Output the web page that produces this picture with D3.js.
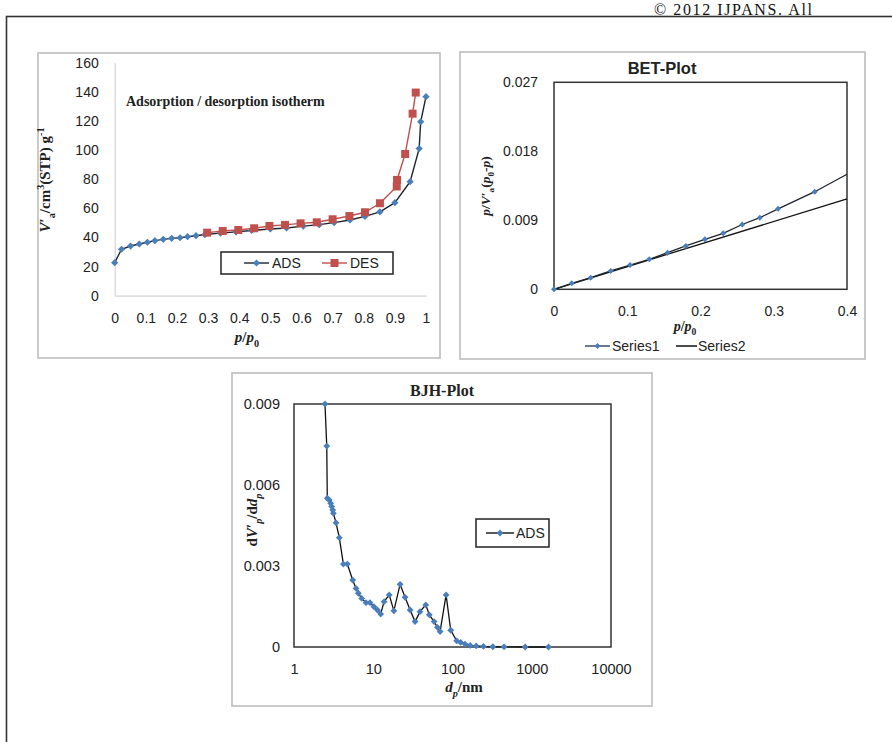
<!DOCTYPE html>
<html><head><meta charset="utf-8">
<script src="https://cdn.jsdelivr.net/npm/d3@7"></script>
<style>body{margin:0;background:#fff}svg{display:block}</style>
</head><body>
<script>
// ---------- Data: adsorption / desorption isotherm ----------
const adsP = [0, 0.022, 0.051, 0.079, 0.105, 0.129, 0.156, 0.183, 0.21, 0.234, 0.261, 0.29, 0.34, 0.39, 0.44, 0.5, 0.552, 0.606, 0.657, 0.705, 0.756, 0.804, 0.852, 0.9, 0.949, 0.978, 0.983, 1.0];
const adsV = [22.7, 31.9, 34.1, 35.5, 36.7, 37.8, 38.7, 39.4, 39.8, 40.5, 41.2, 42, 43, 43.8, 44.8, 45.8, 46.5, 47.8, 48.8, 50.2, 52, 54.5, 57.6, 63.9, 78.3, 101, 119.5, 136.7];
const desP = [0.967, 0.957, 0.933, 0.907, 0.906, 0.852, 0.804, 0.754, 0.7, 0.649, 0.597, 0.547, 0.497, 0.448, 0.397, 0.347, 0.297];
const desV = [139.5, 125, 97.3, 79.5, 75, 63.5, 57.3, 54.7, 52.5, 50.4, 49.7, 48.6, 47.9, 46.3, 45.1, 44.4, 43.3];
const isoXTicks = [0, 0.1, 0.2, 0.3, 0.4, 0.5, 0.6, 0.7, 0.8, 0.9, 1];
const isoYTicks = [0, 20, 40, 60, 80, 100, 120, 140, 160];
const isoSeries = ["ADS", "DES"];

// ---------- Data: BET plot ----------
const betP = [0, 0.0242, 0.0501, 0.0774, 0.1038, 0.130, 0.155, 0.18, 0.206, 0.231, 0.257, 0.281, 0.306, 0.356];
const betY = [0, 0.00078, 0.00151, 0.00239, 0.00317, 0.00391, 0.00478, 0.00565, 0.00652, 0.0073, 0.00845, 0.00934, 0.0105, 0.01273];
const betS1Tail = [0.4, 0.0150];          // end of Series1 line at the axis edge
const betS2P = [0, 0.4];
const betS2Y = [0, 0.0118];
const betXTicks = [0, 0.1, 0.2, 0.3, 0.4];
const betYTicks = [0, 0.009, 0.018, 0.027];
const betSeries = ["Series1", "Series2"];

// ---------- Data: BJH plot ----------
const bjhD = [2.46, 2.59, 2.63, 2.79, 2.9, 2.99, 3.08, 3.14, 3.39, 3.73, 4.2, 4.71, 5.5, 6.07, 6.49, 7.15, 8.1, 9.1, 10.2, 11.3, 12.4, 13.7, 15.9, 18.2, 21.8, 25.2, 29.2, 33.7, 38.9, 46, 51, 58.6, 64.6, 69.7, 83, 95, 113, 127, 144, 167, 199, 246, 323, 447, 826, 1625];
const bjhV = [0.009, 0.00744, 0.00551, 0.00544, 0.00532, 0.0052, 0.00507, 0.00495, 0.0046, 0.00405, 0.00307, 0.00307, 0.00248, 0.00217, 0.00199, 0.0018, 0.00164, 0.00164, 0.00149, 0.00137, 0.00122, 0.00168, 0.00193, 0.00134, 0.00232, 0.00184, 0.00137, 0.00094, 0.00131, 0.00156, 0.00119, 0.00094, 0.00073, 0.00057, 0.00193, 0.00062, 0.00023, 0.00017, 0.00011, 0.00006, 0.00004, 0.00002, 0.00001, 0.000005, 0, 0];
const bjhXTicks = [1, 10, 100, 1000, 10000];
const bjhYTicks = [0, 0.003, 0.006, 0.009];
const bjhSeries = ["ADS"];

// ---------- Drawing ----------
const W = 892, H = 742;
const SANS = "'Liberation Sans', Arial, sans-serif";
const SERIF = "'Liberation Serif', 'Times New Roman', serif";
const BLUE = "#4a7ebb", RED = "#c0504d", INK = "#222";

const svg = d3.select("body").append("svg").attr("width", W).attr("height", H);

// outer frame + copyright
svg.append("rect").attr("x", 6.5).attr("y", 16.5).attr("width", 900).attr("height", 740)
  .attr("fill", "none").attr("stroke", "#333").attr("stroke-width", 1.6);
svg.append("text").attr("x", 654).attr("y", 15.3).attr("font-family", SERIF).attr("font-size", 16)
  .attr("letter-spacing", 1.6).attr("fill", "#111").text("© 2012 IJPANS. All");

const diamond = r => `M0,${-r}L${r},0L0,${r}L${-r},0Z`;
const square = r => `M${-r},${-r}H${r}V${r}H${-r}Z`;

function rich(g, x, y, parts, o) {
  const t = g.append("text").attr("x", x).attr("y", y)
    .attr("font-family", o.family).attr("font-size", o.size).attr("font-weight", o.weight || "bold")
    .attr("fill", INK).attr("text-anchor", "middle");
  if (o.rotate) t.attr("transform", `rotate(-90,${x},${y})`);
  let cur = 0;
  parts.forEach(p => {
    const shift = p.sub ? o.size * 0.3 : p.sup ? -o.size * 0.38 : 0;
    const ts = t.append("tspan").text(p.t).attr("dy", shift - cur);
    cur = shift;
    if (p.i) ts.attr("font-style", "italic");
    if (p.sub || p.sup) ts.attr("font-size", o.size * 0.68);
  });
  return t;
}
function panel(x0, y0, x1, y1) {
  svg.append("rect").attr("x", x0).attr("y", y0).attr("width", x1 - x0).attr("height", y1 - y0)
    .attr("fill", "#fff").attr("stroke", "#bdbdbd").attr("stroke-width", 1.6);
}
function styleAxis(g, size, domainColor) {
  g.attr("font-family", SANS).attr("font-size", size);
  g.selectAll("text").attr("fill", INK);
  g.selectAll(".tick line").remove();
  if (domainColor) g.select(".domain").attr("stroke", domainColor).attr("stroke-width", 1.2);
  else g.select(".domain").remove();
}

// ===== Panel 1: isotherm =====
panel(38, 53, 440, 358);
{
  const x = d3.scaleLinear().domain([0, 1]).range([114.7, 426]);
  const y = d3.scaleLinear().domain([0, 160]).range([295.7, 62.7]);
  const g = svg.append("g");
  const ax = g.append("g").attr("transform", `translate(0,${y(0)})`)
    .call(d3.axisBottom(x).tickValues(isoXTicks).tickSize(0).tickSizeOuter(0).tickPadding(17).tickFormat(d => String(d)));
  styleAxis(ax, 14, "#d4d4d4");
  const ay = g.append("g").attr("transform", `translate(${x(0)},0)`)
    .call(d3.axisLeft(y).tickValues(isoYTicks).tickSize(0).tickSizeOuter(0).tickPadding(16));
  styleAxis(ay, 14, "#d4d4d4");

  const line = d3.line().x(d => x(d[0])).y(d => y(d[1]));
  const ads = d3.zip(adsP, adsV), des = d3.zip(desP, desV);
  g.append("path").attr("d", line(ads)).attr("fill", "none").attr("stroke", "#1d2430").attr("stroke-width", 1.4);
  g.selectAll(".am").data(ads).join("path").attr("d", diamond(3.6))
    .attr("transform", d => `translate(${x(d[0])},${y(d[1])})`).attr("fill", BLUE);
  g.append("path").attr("d", line(des)).attr("fill", "none").attr("stroke", RED).attr("stroke-width", 1.4);
  g.selectAll(".dm").data(des).join("path").attr("d", square(4))
    .attr("transform", d => `translate(${x(d[0])},${y(d[1])})`).attr("fill", RED);

  g.append("text").attr("x", 126).attr("y", 106).attr("font-family", SERIF).attr("font-size", 14)
    .attr("font-weight", "bold").attr("fill", INK).text("Adsorption / desorption isotherm");

  rich(g, 247, 342, [{t: "p", i: 1}, {t: "/"}, {t: "p", i: 1}, {t: "0", sub: 1}], {family: SERIF, size: 15});
  rich(g, 50, 180, [{t: "V", i: 1}, {t: "′"}, {t: "a", sub: 1}, {t: "/cm"}, {t: "3", sup: 1}, {t: "(STP) g"}, {t: "-1", sup: 1}],
    {family: SERIF, size: 15, rotate: true});

  // legend
  g.append("rect").attr("x", 221).attr("y", 252).attr("width", 172).attr("height", 22)
    .attr("fill", "#fff").attr("stroke", "#222").attr("stroke-width", 1.5);
  const ly = 263;
  const items = [{n: isoSeries[0], x: 244, c: "#1d2430", m: BLUE, shape: diamond(3.6)},
                 {n: isoSeries[1], x: 322, c: RED, m: RED, shape: square(4)}];
  items.forEach(it => {
    g.append("line").attr("x1", it.x).attr("x2", it.x + 25).attr("y1", ly).attr("y2", ly)
      .attr("stroke", it.c).attr("stroke-width", 1.4);
    g.append("path").attr("d", it.shape).attr("transform", `translate(${it.x + 12.5},${ly})`).attr("fill", it.m);
    g.append("text").attr("x", it.x + 28).attr("y", ly + 5).attr("font-family", SANS).attr("font-size", 14)
      .attr("fill", INK).text(it.n);
  });
}

// ===== Panel 2: BET =====
panel(460, 52, 865, 359);
{
  const x = d3.scaleLinear().domain([0, 0.4]).range([554, 847]);
  const y = d3.scaleLinear().domain([0, 0.027]).range([289.3, 82.3]);
  const g = svg.append("g");
  g.append("rect").attr("x", x(0)).attr("y", y(0.027)).attr("width", x(0.4) - x(0)).attr("height", y(0) - y(0.027))
    .attr("fill", "none").attr("stroke", "#333").attr("stroke-width", 1.5);
  const fmt = d => d === 0 ? "0" : String(d);
  const ax = g.append("g").attr("transform", `translate(0,${y(0)})`)
    .call(d3.axisBottom(x).tickValues(betXTicks).tickSize(0).tickSizeOuter(0).tickPadding(17).tickFormat(fmt));
  styleAxis(ax, 14, null);
  const ay = g.append("g").attr("transform", `translate(${x(0)},0)`)
    .call(d3.axisLeft(y).tickValues(betYTicks).tickSize(0).tickSizeOuter(0).tickPadding(16).tickFormat(fmt));
  styleAxis(ay, 14, null);

  const line = d3.line().x(d => x(d[0])).y(d => y(d[1]));
  const pts = d3.zip(betP, betY);
  g.append("path").attr("d", line(d3.zip(betS2P, betS2Y))).attr("fill", "none").attr("stroke", "#111").attr("stroke-width", 1.3);
  g.append("path").attr("d", line(pts.concat([betS1Tail]))).attr("fill", "none").attr("stroke", "#1d2430").attr("stroke-width", 1.3);
  g.selectAll(".bm").data(pts).join("path").attr("d", diamond(3))
    .attr("transform", d => `translate(${x(d[0])},${y(d[1])})`).attr("fill", BLUE);

  g.append("text").attr("x", 662).attr("y", 74).attr("text-anchor", "middle").attr("font-family", SANS)
    .attr("font-size", 16.5).attr("font-weight", "bold").attr("fill", INK).text("BET-Plot");
  rich(g, 685, 331, [{t: "p", i: 1}, {t: "/"}, {t: "p", i: 1}, {t: "0", sub: 1}], {family: SERIF, size: 14});
  rich(g, 490, 186, [{t: "p", i: 1}, {t: "/"}, {t: "V", i: 1}, {t: "′"}, {t: "a", sub: 1}, {t: "("}, {t: "p", i: 1},
    {t: "0", sub: 1}, {t: "-"}, {t: "p", i: 1}, {t: ")"}], {family: SERIF, size: 13.5, rotate: true});

  const ly = 346;
  g.append("line").attr("x1", 585).attr("x2", 610).attr("y1", ly).attr("y2", ly).attr("stroke", "#3c4d66").attr("stroke-width", 1.5);
  g.append("path").attr("d", diamond(3)).attr("transform", `translate(597.5,${ly})`).attr("fill", BLUE);
  g.append("text").attr("x", 612).attr("y", ly + 5).attr("font-family", SANS).attr("font-size", 14).attr("fill", INK).text(betSeries[0]);
  g.append("line").attr("x1", 676).attr("x2", 697).attr("y1", ly).attr("y2", ly).attr("stroke", "#111").attr("stroke-width", 1.5);
  g.append("text").attr("x", 698).attr("y", ly + 5).attr("font-family", SANS).attr("font-size", 14).attr("fill", INK).text(betSeries[1]);
}

// ===== Panel 3: BJH =====
panel(232, 373, 652, 706);
{
  const x = d3.scaleLog().domain([1, 10000]).range([294, 611]);
  const y = d3.scaleLinear().domain([0, 0.009]).range([647, 404]);
  const g = svg.append("g");
  g.append("rect").attr("x", x(1)).attr("y", y(0.009)).attr("width", x(10000) - x(1)).attr("height", y(0) - y(0.009))
    .attr("fill", "none").attr("stroke", "#333").attr("stroke-width", 1.5);
  const ax = g.append("g").attr("transform", `translate(0,${y(0)})`)
    .call(d3.axisBottom(x).tickValues(bjhXTicks).tickSize(0).tickSizeOuter(0).tickPadding(17).tickFormat(d3.format("d")));
  styleAxis(ax, 14.5, null);
  const ay = g.append("g").attr("transform", `translate(${x(1)},0)`)
    .call(d3.axisLeft(y).tickValues(bjhYTicks).tickSize(0).tickSizeOuter(0).tickPadding(14)
      .tickFormat(d => d === 0 ? "0" : String(d)));
  styleAxis(ay, 14.5, null);

  const line = d3.line().x(d => x(d[0])).y(d => y(d[1]));
  const pts = d3.zip(bjhD, bjhV);
  g.append("path").attr("d", line(pts)).attr("fill", "none").attr("stroke", "#111").attr("stroke-width", 1.3);
  g.selectAll(".jm").data(pts).join("path").attr("d", diamond(3.4))
    .attr("transform", d => `translate(${x(d[0])},${y(d[1])})`).attr("fill", BLUE);

  g.append("text").attr("x", 442).attr("y", 396).attr("text-anchor", "middle").attr("font-family", SERIF)
    .attr("font-size", 16).attr("font-weight", "bold").attr("fill", INK).text("BJH-Plot");
  rich(g, 464, 692, [{t: "d", i: 1}, {t: "p", i: 1, sub: 1}, {t: "/nm"}], {family: SERIF, size: 15});
  rich(g, 257, 520, [{t: "d"}, {t: "V", i: 1}, {t: "′"}, {t: "p", i: 1, sub: 1}, {t: "/d"}, {t: "d", i: 1}, {t: "p", i: 1, sub: 1}],
    {family: SERIF, size: 15, rotate: true});

  g.append("rect").attr("x", 476).attr("y", 519).attr("width", 73).attr("height", 28)
    .attr("fill", "#fff").attr("stroke", "#222").attr("stroke-width", 1.5);
  const ly = 533;
  g.append("line").attr("x1", 486).attr("x2", 514).attr("y1", ly).attr("y2", ly).attr("stroke", "#111").attr("stroke-width", 1.4);
  g.append("path").attr("d", diamond(3.4)).attr("transform", `translate(500,${ly})`).attr("fill", BLUE);
  g.append("text").attr("x", 516).attr("y", ly + 5).attr("font-family", SANS).attr("font-size", 14).attr("fill", INK).text(bjhSeries[0]);
}
</script>
</body></html>
